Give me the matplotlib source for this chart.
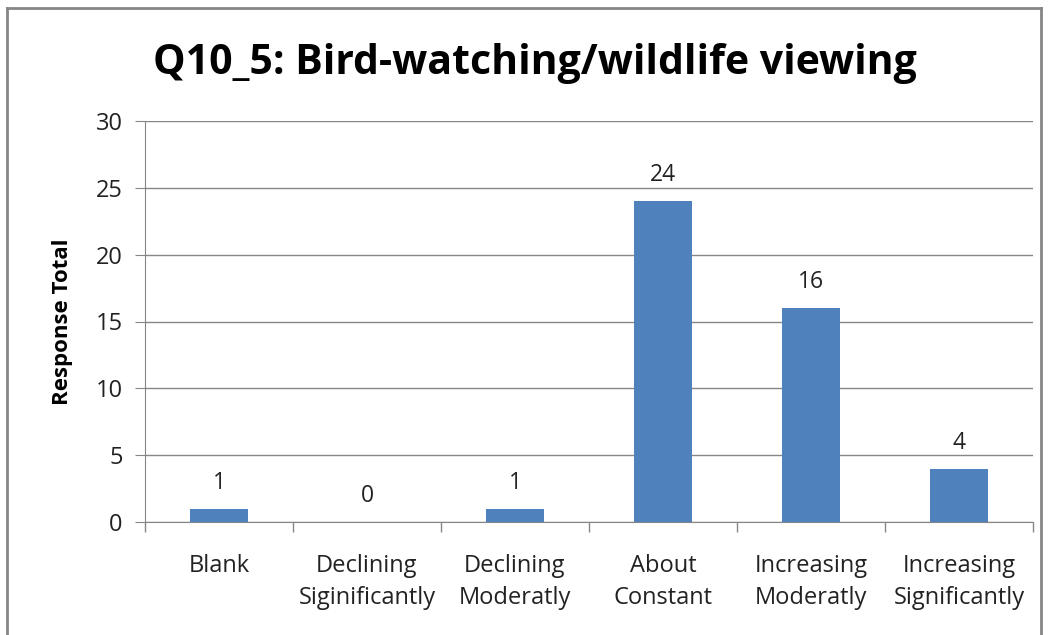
import matplotlib.pyplot as plt
import numpy as np
from matplotlib.lines import Line2D

categories = ["Blank", "Declining\nSiginificantly", "Declining\nModeratly",
              "About\nConstant", "Increasing\nModeratly", "Increasing\nSignificantly"]
values = [1, 0, 1, 24, 16, 4]
yticks = [0, 5, 10, 15, 20, 25, 30]

plt.rcParams['font.family'] = ['Open Sans', 'DejaVu Sans']

fig = plt.figure(figsize=(10.49, 6.35), dpi=100)
ax = fig.add_axes([145 / 1049, 1 - 522 / 635, (1033 - 145) / 1049, (522 - 121) / 635])

x = np.arange(len(categories))
ax.bar(x, values, width=0.39, color="#4F81BD", zorder=3)
for xi, v in zip(x, values):
    ax.annotate(str(v), (xi, v), xytext=(0, 10), textcoords="offset points",
                ha="center", va="bottom", fontsize=16.5, color="#222222")

ax.set_xlim(-0.5, len(categories) - 0.5)
ax.set_ylim(0, 30)
ax.set_yticks(yticks)
ax.set_xticks(x)
ax.set_xticklabels(categories, fontsize=17, color="#222222", linespacing=1.45)
ax.set_xticks(np.arange(len(categories) + 1) - 0.5, minor=True)
ax.tick_params(axis="x", which="major", length=0, pad=23)
ax.tick_params(axis="x", which="minor", length=7, color="#868686", width=1)
ax.tick_params(axis="y", length=7, color="#868686", pad=9, labelsize=17, labelcolor="#222222")
ax.grid(axis="y", color="#868686", linewidth=1, zorder=0)
for s in ["top", "right"]:
    ax.spines[s].set_visible(False)
ax.spines["left"].set_color("#868686")
ax.spines["bottom"].set_color("#868686")

ax.set_ylabel("Response Total", fontsize=16, fontweight="bold", labelpad=16)
fig.text(535 / 1049, 1 - 63 / 635, "Q10_5: Bird-watching/wildlife viewing",
         ha="center", va="center", fontsize=29.5, fontweight="bold")

# chart frame
fig.add_artist(Line2D([7 / 1049, 7 / 1049], [0, 1 - 8 / 635], transform=fig.transFigure, color="#868686", lw=2))
fig.add_artist(Line2D([7 / 1049, 1041 / 1049], [1 - 8 / 635, 1 - 8 / 635], transform=fig.transFigure, color="#868686", lw=2))
fig.add_artist(Line2D([1041 / 1049, 1041 / 1049], [0, 1 - 8 / 635], transform=fig.transFigure, color="#868686", lw=2))

fig.savefig("out.png", dpi=100)
